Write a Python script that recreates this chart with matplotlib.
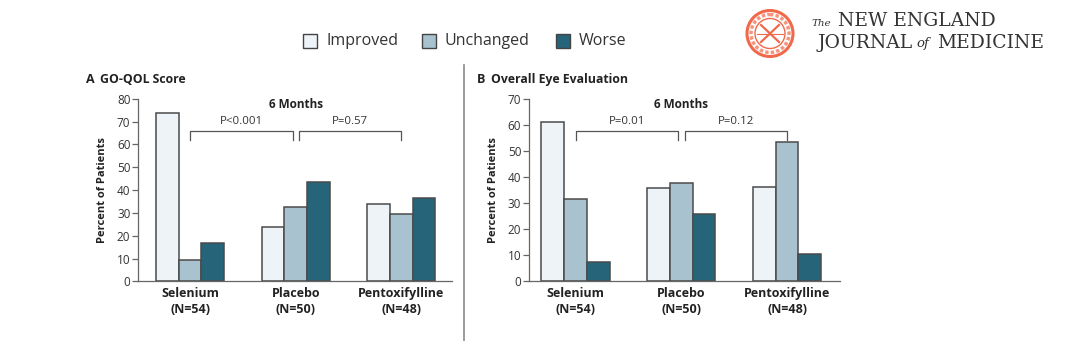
import numpy as np
import matplotlib
matplotlib.use("Agg")
import matplotlib.pyplot as plt
from matplotlib.patches import Rectangle, Circle
import matplotlib.transforms as mtransforms

plt.rcParams['font.family'] = ['Open Sans', 'DejaVu Sans']

groups = ["Selenium\n(N=54)", "Placebo\n(N=50)", "Pentoxifylline\n(N=48)"]
series = ["Improved", "Unchanged", "Worse"]
colors = ["#EEF3F7", "#A9C2CF", "#26647A"]

qol_improved = [73.7, 23.8, 33.8]
qol_unchanged = [9.3, 32.7, 29.4]
qol_worse = [16.9, 43.4, 36.7]

eye_improved = [61.1, 35.7, 36.1]
eye_unchanged = [31.5, 37.9, 53.4]
eye_worse = [7.3, 26.0, 10.5]

qol_pvals = ["P<0.001", "P=0.57"]
eye_pvals = ["P=0.01", "P=0.12"]

fig = plt.figure(figsize=(10.8, 3.41), dpi=100)

edge = "#4a4a4a"
text_col = "#222222"


def panel(rect, letter, title, values, ymax, pvals, xlim):
    ax = fig.add_axes(rect)
    x = np.arange(len(groups))
    w = 0.215
    for i, vals in enumerate(values):
        ax.bar(x + (i - 1) * w, vals, width=w, color=colors[i],
               edgecolor=edge, linewidth=1.1)
    ax.set_ylim(0, ymax)
    ax.set_xlim(*xlim)
    ax.set_yticks(np.arange(0, ymax + 1, 10))
    ax.set_xticks(x)
    ax.set_xticklabels(groups, fontsize=9, fontweight="bold", color=text_col,
                       linespacing=1.3)
    ax.tick_params(axis="x", length=0, pad=4)
    ax.tick_params(axis="y", length=4, width=0.9, color="#666666",
                   labelsize=8.5, labelcolor="#333333", pad=1.5)
    for s in ["top", "right"]:
        ax.spines[s].set_visible(False)
    for s in ["left", "bottom"]:
        ax.spines[s].set_color("#666666")
        ax.spines[s].set_linewidth(0.9)
    ax.set_ylabel("Percent of Patients", fontsize=8, fontweight="bold",
                  color=text_col, labelpad=6)

    trans = mtransforms.blended_transform_factory(ax.transData, ax.transAxes)
    ax.text(1, 0.967, "6 Months", transform=trans, ha="center", va="center",
            fontsize=8.5, fontweight="bold", color=text_col)
    top, leg = 0.826, 0.776
    for (x0, x1), p in zip([(0.0, 0.97), (1.03, 2.0)], pvals):
        ax.plot([x0, x0, x1, x1], [leg, top, top, leg], transform=trans,
                color="#555555", lw=0.9, clip_on=False)
        ax.text((x0 + x1) / 2, 0.875, p, transform=trans, ha="center",
                va="center", fontsize=8.2, color="#333333")
    fig.text(rect[0] - 0.048, 0.768, letter, fontsize=9, fontweight="bold",
             color=text_col, va="center")
    fig.text(rect[0] - 0.0355, 0.768, title, fontsize=8.8, fontweight="bold",
             color=text_col, va="center")
    return ax


panel([0.1278, 0.175, 0.2907, 0.535], "A", "GO-QOL Score",
      [qol_improved, qol_unchanged, qol_worse], 80, qol_pvals, (-0.493, 2.48))
panel([0.4898, 0.175, 0.288, 0.535], "B", "Overall Eye Evaluation",
      [eye_improved, eye_unchanged, eye_worse], 70, eye_pvals, (-0.44, 2.50))

# divider between the panels
fig.add_artist(plt.Line2D([464 / 1080, 464 / 1080], [0, 276 / 341],
                          color="#8a8a8a", lw=1.2))

# legend row
lx = [303, 422, 556]
for xx, name, c in zip(lx, series, colors):
    fig.add_artist(Rectangle((xx / 1080, (341 - 48) / 341), 14 / 1080, 14 / 341,
                             facecolor=c, edgecolor="#444444", lw=1.0))
    fig.text((xx + 23) / 1080, (341 - 41) / 341, name, fontsize=11.5,
             color="#333333", va="center", ha="left")

# journal mark
logo_ax = fig.add_axes([0, 0, 1, 1], facecolor="none")
logo_ax.set_xlim(0, 1080)
logo_ax.set_ylim(341, 0)
logo_ax.set_aspect("equal")
logo_ax.axis("off")
red = "#F0694A"
logo_ax.add_patch(Circle((770, 33.5), 23, facecolor="none", edgecolor=red, lw=2.2))
logo_ax.add_patch(Circle((770, 33.5), 15, facecolor="none", edgecolor=red, lw=1.0))
logo_ax.add_patch(Circle((770, 33.5), 19, facecolor="none", edgecolor=red, lw=2.5,
                         linestyle=(0, (1, 0.6)), alpha=0.7))
logo_ax.plot([761, 779], [25, 42], color=red, lw=1.6)
logo_ax.plot([761, 779], [42, 25], color=red, lw=1.6)
logo_ax.plot([757, 783], [33.5, 33.5], color=red, lw=0.8)

serif = ["DejaVu Serif"]
logo_ax.text(812, 23, "The", fontsize=7.5, family=serif, style="italic",
             color="#333333", va="center")
logo_ax.text(838, 21.5, "NEW ENGLAND", fontsize=13.5, family=serif,
             color="#333333", va="center")
logo_ax.text(817, 43.5, "JOURNAL", fontsize=13.5, family=serif,
             color="#333333", va="center")
logo_ax.text(916, 44, "of", fontsize=9.5, family=serif, style="italic",
             color="#333333", va="center")
logo_ax.text(937, 43.5, "MEDICINE", fontsize=13.5, family=serif,
             color="#333333", va="center")

fig.savefig("out.png", dpi=100, facecolor="white")
